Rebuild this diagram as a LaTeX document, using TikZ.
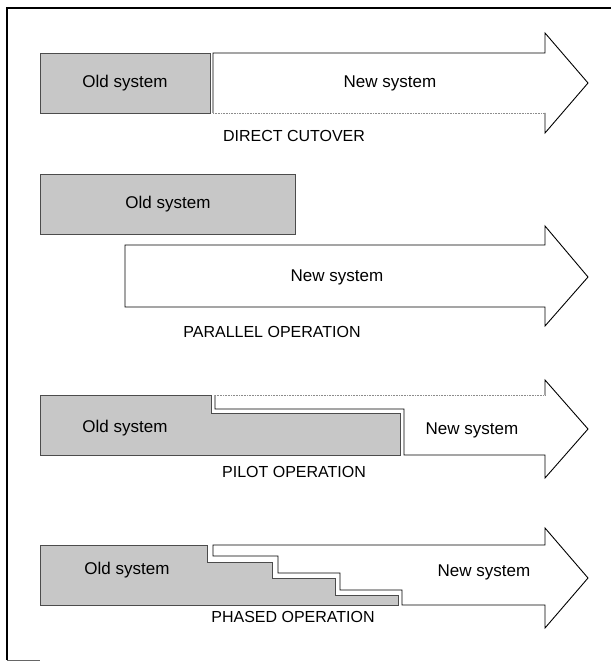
\documentclass[tikz,border=0pt]{standalone}
\usepackage{fontspec}
\setmainfont{Liberation Sans}
\begin{document}
\begin{tikzpicture}[x=1pt,y=-1pt,
  oldsys/.style={fill=black!22,draw=black!70,line width=0.7pt},
  newsys/.style={fill=white,draw=black,line width=0.9pt,line join=miter},
  faintedge/.style={draw=black!45,line width=0.6pt,densely dotted},
  boxtext/.style={font=\fontsize{17}{20}\selectfont,inner sep=0pt},
  captext/.style={font=\fontsize{16}{19}\selectfont,inner sep=0pt},
  frameline/.style={draw=black,line width=1.2pt}]
\useasboundingbox (0,0) rectangle (611,666);
% frame
\draw[frameline] (7,660) -- (7,8) -- (611,8);
\draw[draw=black!60,line width=1pt] (7,660) -- (40,660);

% ---------- DIRECT CUTOVER ----------
\draw[oldsys] (40,53) rectangle (210,113);
\draw[newsys] (213,113) -- (213,53) -- (545,53) -- (545,33) -- (588,83) -- (545,133) -- (545,113);
\draw[faintedge] (213,113) -- (545,113);
\node[boxtext] (o1) at (125,83) {Old system};
\node[boxtext] (n1) at (390,83) {New system};
\node[captext] (c1) at (294,136) {DIRECT CUTOVER};

% ---------- PARALLEL OPERATION ----------
\draw[oldsys] (40,174) rectangle (295,234);
\draw[newsys] (125,245) -- (545,245) -- (545,226) -- (588,277) -- (545,326) -- (545,307) -- (125,307) -- cycle;
\node[boxtext] (o2) at (168,204) {Old system};
\node[boxtext] (n2) at (337,277) {New system};
\node[captext] (c2) at (272,332) {PARALLEL OPERATION};

% ---------- PILOT OPERATION ----------
\draw[oldsys] (40,395) -- (211,395) -- (211,413) -- (400,413) -- (400,455) -- (40,455) -- cycle;
\draw[newsys] (545,395) -- (545,380) -- (588,429) -- (545,478) -- (545,455) -- (404,455) -- (404,409) -- (215,409) -- (215,395);
\draw[faintedge] (215,395) -- (545,395);
\node[boxtext] (o3) at (125,428) {Old system};
\node[boxtext] (n3) at (472,430) {New system};
\node[captext] (c3) at (294,472) {PILOT OPERATION};

% ---------- PHASED OPERATION ----------
\draw[oldsys] (40,545) -- (207,545) -- (207,562) -- (272,562) -- (272,578) -- (335,578) -- (335,595) -- (398,595) -- (398,605) -- (40,605) -- cycle;
\draw[newsys] (213,545) -- (545,545) -- (545,528) -- (588,578) -- (545,628) -- (545,605) -- (402,605) -- (402,590) -- (340,590) -- (340,573) -- (278,573) -- (278,556) -- (213,556) -- cycle;
\node[boxtext] (o4) at (127,570) {Old system};
\node[boxtext] (n4) at (484,572) {New system};
\node[captext] (c4) at (293,617) {PHASED OPERATION};
\end{tikzpicture}
\end{document}
